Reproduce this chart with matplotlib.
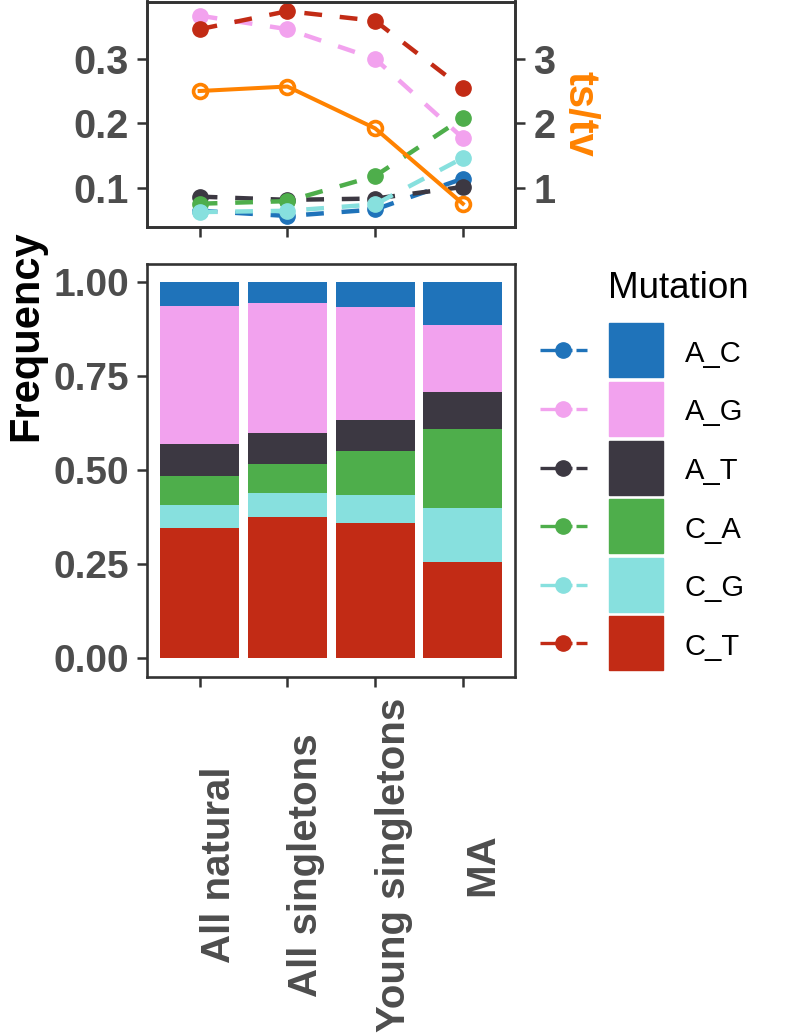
import matplotlib.pyplot as plt
from matplotlib.patches import Rectangle
from matplotlib.transforms import blended_transform_factory
import numpy as np

plt.rcParams['font.family'] = ['Liberation Sans', 'DejaVu Sans']

# data
groups = ["All natural", "All singletons", "Young singletons", "MA"]
mutations = ["A_C", "A_G", "A_T", "C_A", "C_G", "C_T"]
freq_A_C = [0.064, 0.056, 0.066, 0.114]
freq_A_G = [0.367, 0.346, 0.300, 0.177]
freq_A_T = [0.086, 0.081, 0.083, 0.101]
freq_C_A = [0.075, 0.079, 0.118, 0.208]
freq_C_G = [0.062, 0.064, 0.074, 0.146]
freq_C_T = [0.346, 0.374, 0.359, 0.254]
tstv = [2.50, 2.57, 1.92, 0.75]

freqs = {"A_C": freq_A_C, "A_G": freq_A_G, "A_T": freq_A_T,
         "C_A": freq_C_A, "C_G": freq_C_G, "C_T": freq_C_T}
colors = {"A_C": "#1F73BA", "A_G": "#F2A2EE", "A_T": "#3C3842",
          "C_A": "#4EAE4B", "C_G": "#87E0DE", "C_T": "#C22B15"}
orange = "#FF8200"
tick_col = "#4D4D4D"
line_col = "#333333"

W, H = 790, 1035
fig = plt.figure(figsize=(W / 100, H / 100), dpi=100)


def px_box(x0, y0, x1, y1):
    return [x0 / W, 1 - y1 / H, (x1 - x0) / W, (y1 - y0) / H]


def style(ax, size):
    for s in ax.spines.values():
        s.set_linewidth(1.9)
        s.set_color(line_col)
    ax.tick_params(length=7, width=1.8, color=line_col, pad=6,
                   labelsize=size, labelcolor=tick_col)
    for t in ax.get_yticklabels():
        t.set_fontweight('bold')


x = np.arange(1, len(groups) + 1)

# top panel: frequency lines + ts/tv
ax_top = fig.add_axes(px_box(147, 1.5, 515.5, 226.5))
for m in mutations:
    ax_top.plot(x, freqs[m], color=colors[m], lw=3.2, dashes=(4, 4),
                marker='o', ms=11)
ax_top.set_xlim(0.4, 4.6)
ax_top.set_ylim(0.0396, 0.389)
ax_top.set_yticks([0.1, 0.2, 0.3])
ax_top.set_yticklabels(['0.1', '0.2', '0.3'])
ax_top.set_xticks(x)
ax_top.set_xticklabels([])

ax2 = ax_top.twinx()
ax2.plot(x, tstv, color=orange, lw=2.9, marker='o', ms=10,
         mfc='none', mew=2.6)
ax2.set_ylim(0.396, 3.89)
ax2.set_yticks([1, 2, 3])
ax2.set_yticklabels(['1', '2', '3'])
style(ax_top, 28.5)
style(ax2, 28.5)

# bottom panel: stacked bars
ax_bar = fig.add_axes(px_box(147, 263.5, 515.5, 676.5))
bottom = np.zeros(len(groups))
for m in mutations[::-1]:
    ax_bar.bar(x, freqs[m], width=0.9, bottom=bottom, color=colors[m])
    bottom = bottom + np.array(freqs[m])
ax_bar.set_xlim(0.4, 4.6)
ax_bar.set_ylim(-0.05, 1.05)
ax_bar.set_yticks([0, 0.25, 0.5, 0.75, 1.0])
ax_bar.set_yticklabels(['0.00', '0.25', '0.50', '0.75', '1.00'])
ax_bar.set_xticks(x)
ax_bar.set_xticklabels([])
style(ax_bar, 28)

trans = blended_transform_factory(ax_bar.transData, fig.transFigure)
for xi, g in zip(x, groups):
    ax_bar.text(xi, 1 - 865 / H, g, transform=trans, rotation=90,
                ha='left', va='center', fontsize=29, fontweight='bold',
                color=tick_col)

fig.text(6 / W, 1 - 336 / H, 'Frequency', rotation=90, ha='left',
         va='center', fontsize=30, fontweight='bold', color='black')
fig.text(559 / W, 1 - 113.5 / H, 'ts/tv', rotation=270, ha='left',
         va='center', fontsize=30, fontweight='bold', color=orange)

# legend drawn by hand
ax_leg = fig.add_axes([0, 0, 1, 1])
ax_leg.set_xlim(0, W)
ax_leg.set_ylim(H, 0)
ax_leg.axis('off')
ax_leg.text(608, 298, 'Mutation', fontsize=26.5, color='black', va='baseline')
for i, m in enumerate(mutations):
    cy = 350.3 + i * 58.6
    ax_leg.add_patch(Rectangle((609, cy - 27), 54, 54, color=colors[m]))
    ax_leg.plot([540, 572], [cy, cy], color=colors[m], lw=2.4,
                solid_capstyle='butt')
    ax_leg.plot([576, 587], [cy, cy], color=colors[m], lw=2.4,
                solid_capstyle='butt')
    ax_leg.plot([563], [cy], 'o', color=colors[m], ms=11)
    ax_leg.text(685, cy + 11.4, m, fontsize=21, color='black', va='baseline')

fig.savefig('out.png', dpi=100)
